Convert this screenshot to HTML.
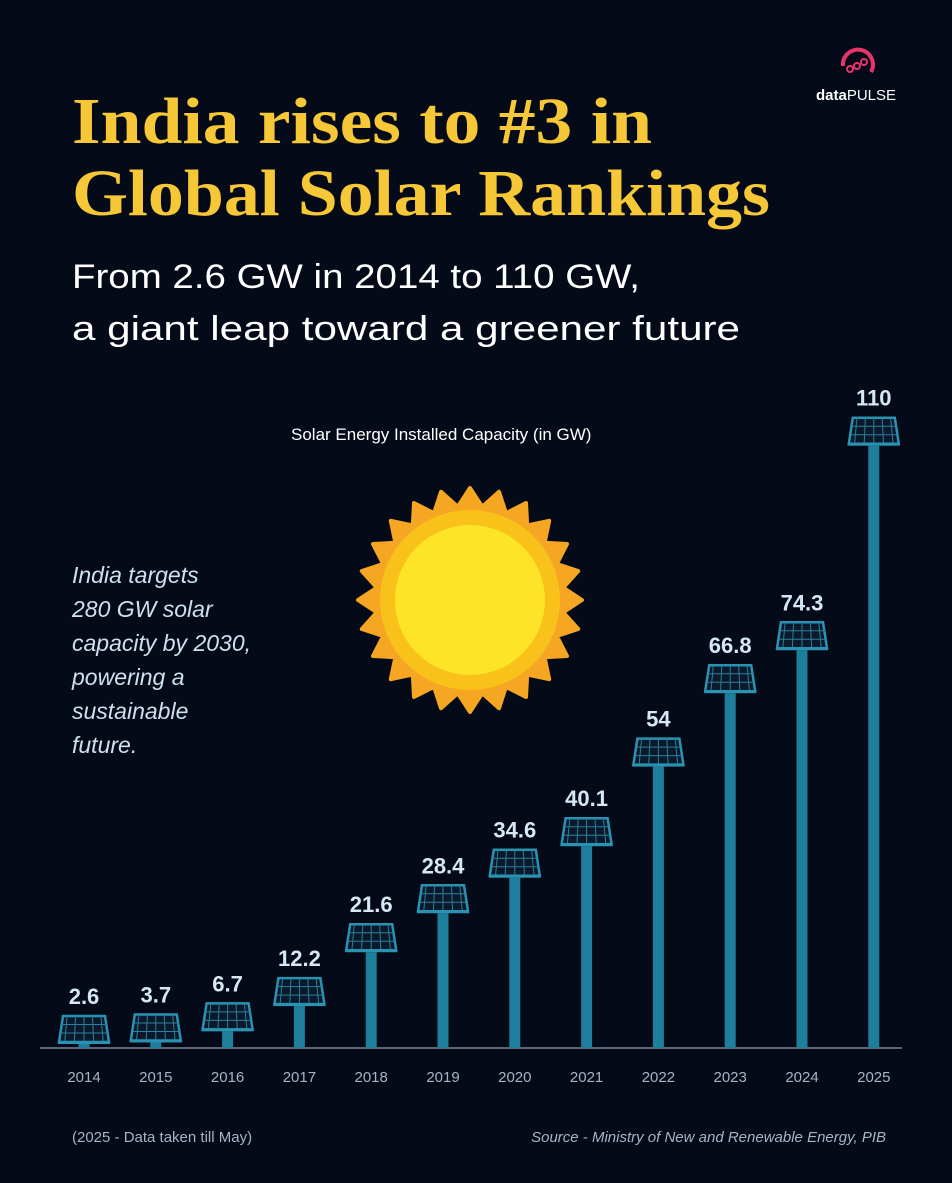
<!DOCTYPE html>
<html><head><meta charset="utf-8"><style>
body{margin:0;background:#040a17;width:952px;height:1178px;overflow:hidden;font-family:"Liberation Sans",sans-serif}
</style></head><body>
<svg width="952" height="1178" xmlns="http://www.w3.org/2000/svg">
<rect width="952" height="1178" fill="#040a17"/>
<g>
<path d="M843 66 A15 15 0 1 1 871 72" fill="none" stroke="#e8336b" stroke-width="4"/>
<circle cx="850" cy="69" r="3" fill="none" stroke="#e8336b" stroke-width="2"/>
<circle cx="857" cy="66" r="3" fill="none" stroke="#e8336b" stroke-width="2"/>
<circle cx="864" cy="62" r="3" fill="none" stroke="#e8336b" stroke-width="2"/>
<text x="816" y="100" fill="#fff" font-size="15" font-weight="bold">data<tspan font-weight="normal">PULSE</tspan></text>
</g>
<text font-family="Liberation Serif,serif" font-weight="bold" font-size="66" fill="#f6c737"><tspan x="72" y="143" textLength="580" lengthAdjust="spacingAndGlyphs">India rises to #3 in</tspan><tspan x="72" y="215" textLength="698" lengthAdjust="spacingAndGlyphs">Global Solar Rankings</tspan></text>
<text font-size="34" fill="#fff"><tspan x="72" y="288" textLength="568" lengthAdjust="spacingAndGlyphs">From 2.6 GW in 2014 to 110 GW,</tspan><tspan x="72" y="340" textLength="668" lengthAdjust="spacingAndGlyphs">a giant leap toward a greener future</tspan></text>
<text x="291" y="440" font-size="17" fill="#fff">Solar Energy Installed Capacity (in GW)</text>
<text font-size="23" font-style="italic" fill="#cfe0ee"><tspan x="72" y="583">India targets</tspan><tspan x="72" y="617">280 GW solar</tspan><tspan x="72" y="651">capacity by 2030,</tspan><tspan x="72" y="685">powering a</tspan><tspan x="72" y="719">sustainable</tspan><tspan x="72" y="753">future.</tspan></text>
<g id="sun"></g>
<line x1="40" y1="1048" x2="902" y2="1048" stroke="#5a6578" stroke-width="2"/>
<g id="bars"></g>
<text x="72" y="1142" font-size="15" fill="#a8b4c4">(2025 - Data taken till May)</text>
<text x="886" y="1142" font-size="15" font-style="italic" fill="#a8b4c4" text-anchor="end">Source - Ministry of New and Renewable Energy, PIB</text>
</svg>
<script>
const years=["2014","2015","2016","2017","2018","2019","2020","2021","2022","2023","2024","2025"];
const values=[2.6,3.7,6.7,12.2,21.6,28.4,34.6,40.1,54,66.8,74.3,110];
const labels=["2.6","3.7","6.7","12.2","21.6","28.4","34.6","40.1","54","66.8","74.3","110"];
const NS="http://www.w3.org/2000/svg";
function mk(t,a,p){const e=document.createElementNS(NS,t);for(const k in a)e.setAttribute(k,a[k]);p.appendChild(e);return e;}
const base=1048;
function xs(i){return 84+i*71.8;}
function ys(v){return base-Math.max(4,(v-2.2)*3.7,(v*5.73-28));}
const g=document.getElementById('bars');
years.forEach((y,i)=>{
 const cx=xs(i),pb=ys(values[i]);
 const grp=mk('g',{},g);
 
 
 mk('rect',{x:cx-5.5,y:pb,width:11,height:base-pb,fill:'#1d7f9b'},grp);
 const pt=pb-28;
 mk('path',{d:`M${cx-21} ${pt} L${cx+21} ${pt} L${cx+25} ${pb-2} L${cx-25} ${pb-2} Z`,fill:'#0a1a2c',stroke:'#2a93b2','stroke-width':2.5},grp);
 mk('rect',{x:cx-26,y:pb-3,width:52,height:3,fill:'#2a93b2'},grp);
 for(let k=1;k<3;k++){const yy=pt+k*8.5;mk('line',{x1:cx-23,y1:yy,x2:cx+23,y2:yy,stroke:'#2a7f9c','stroke-width':1},grp);}
 for(let k=-2;k<=2;k++){mk('line',{x1:cx+k*8.4,y1:pt,x2:cx+k*9.6,y2:pb-3,stroke:'#2a7f9c','stroke-width':1},grp);}
 const vt=mk('text',{x:cx,y:pt-12,'text-anchor':'middle','font-size':22,'font-weight':'bold',fill:'#d6e8f5'},grp);
 vt.textContent=labels[i];
 
 
 const yt=mk('text',{x:cx,y:1082,'text-anchor':'middle','font-size':15,fill:'#a8b4c4'},g);
 yt.textContent=y;
 
 
});
const s=document.getElementById('sun');
const scx=470,scy=600;let d='';const n=24;
for(let i=0;i<n*2;i++){const r=i%2?94:112;const a=i*Math.PI/n;d+=(i?'L':'M')+(scx+r*Math.cos(a)).toFixed(1)+' '+(scy+r*Math.sin(a)).toFixed(1);}
mk('path',{d:d+'Z',fill:'#f5a623','stroke-linejoin':'round',stroke:'#f5a623','stroke-width':4},s);
mk('circle',{cx:scx,cy:scy,r:90,fill:'#f9c21a'},s);
mk('circle',{cx:scx,cy:scy,r:75,fill:'#fde427'},s);
</script>
</body></html>
